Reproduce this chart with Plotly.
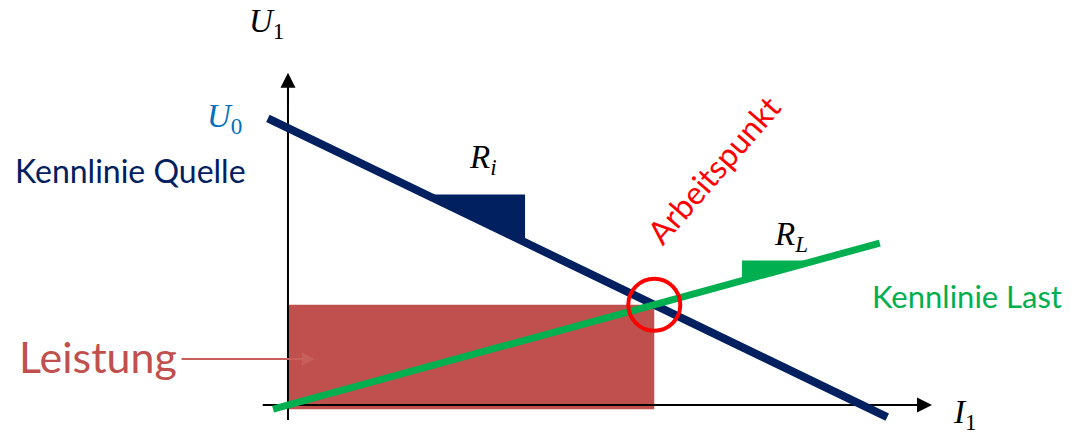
import plotly.graph_objects as go

# ---- data (conceptual units) ----
U0 = 10.0            # open-circuit voltage
Ri = 1.0             # internal resistance (slope of source characteristic)
RL = 0.567           # load resistance (slope of load characteristic)
source_I = [-0.35, 10.44]          # drawn extent of source line
load_I = [-0.26, 10.31]            # drawn extent of load line
ri_tri_I = [2.4, 4.13]             # slope triangle on source line
rl_tri_I = [7.91, 9.2]             # slope triangle on load line
x_axis_I = [-0.44, 11.22]
y_axis_U = [-0.54, 11.99]
leistung_arrow_I = [-1.88, 0.47]
leistung_arrow_U = 1.66

# derived values
I_op = U0 / (Ri + RL)
U_op = U0 - Ri * I_op
src = lambda i: U0 - Ri * i
ld = lambda i: RL * i

NAVY = "#002060"
GREEN = "#00B050"
BRICK = "#C0504D"
RED = "#FF0000"
BLUE = "#0070C0"

fig = go.Figure()

# power rectangle
fig.add_trace(go.Scatter(x=[0, I_op, I_op, 0, 0], y=[-0.15, -0.15, U_op, U_op, -0.15],
                         fill="toself", fillcolor=BRICK, mode="lines",
                         line=dict(width=0, color=BRICK), hoverinfo="skip"))
# axes (lines stop just before the arrow tips)
fig.add_trace(go.Scatter(x=[x_axis_I[0], x_axis_I[1] - 0.2], y=[0, 0], mode="lines",
                         line=dict(color="black", width=2), hoverinfo="skip"))
fig.add_trace(go.Scatter(x=[0, 0], y=[y_axis_U[0], y_axis_U[1] - 0.4], mode="lines",
                         line=dict(color="black", width=2), hoverinfo="skip"))
# source characteristic
fig.add_trace(go.Scatter(x=source_I, y=[src(i) for i in source_I], mode="lines",
                         line=dict(color=NAVY, width=8), hoverinfo="skip"))
# load characteristic
fig.add_trace(go.Scatter(x=load_I, y=[ld(i) for i in load_I], mode="lines",
                         line=dict(color=GREEN, width=7), hoverinfo="skip"))
# Ri triangle
a, b = ri_tri_I
fig.add_trace(go.Scatter(x=[a, b, b, a], y=[src(a), src(a), src(b), src(a)],
                         fill="toself", fillcolor=NAVY, mode="lines",
                         line=dict(width=0, color=NAVY), hoverinfo="skip"))
# RL triangle
a, b = rl_tri_I
fig.add_trace(go.Scatter(x=[a, a, b, a], y=[ld(a), ld(b), ld(b), ld(a)],
                         fill="toself", fillcolor=GREEN, mode="lines",
                         line=dict(width=0, color=GREEN), hoverinfo="skip"))
# operating point circle
fig.add_trace(go.Scatter(x=[I_op], y=[U_op], mode="markers",
                         marker=dict(symbol="circle-open", size=52, color=RED, line=dict(width=4, color=RED)),
                         hoverinfo="skip"))

# axis arrowheads
fig.add_annotation(x=x_axis_I[1], y=0, ax=x_axis_I[1] - 0.6, ay=0, xref="x", yref="y", axref="x", ayref="y",
                   text="", showarrow=True, arrowhead=2, arrowsize=1.5, arrowwidth=2, arrowcolor="black")
fig.add_annotation(x=0, y=y_axis_U[1], ax=0, ay=y_axis_U[1] - 1.2, xref="x", yref="y", axref="x", ayref="y",
                   text="", showarrow=True, arrowhead=2, arrowsize=1.5, arrowwidth=2, arrowcolor="black")

SANS = "Lato"
SERIF = "Liberation Serif"
ann = [
    dict(x=-0.38, y=13.76, text="<i>U</i><sub>1</sub>", font=dict(family=SERIF, size=33, color="black")),
    dict(x=-1.1, y=10.35, text="<i>U</i><sub>0</sub>", font=dict(family=SERIF, size=33, color=BLUE)),
    dict(x=-2.74, y=8.45, text="Kennlinie Quelle", font=dict(family=SANS, size=32, color=NAVY)),
    dict(x=3.4, y=8.85, text="<i>R</i><sub><i>i</i></sub>", font=dict(family=SERIF, size=33, color="black")),
    dict(x=7.41, y=8.5, text="Arbeitspunkt", textangle=-49, font=dict(family=SANS, size=32, color=RED)),
    dict(x=8.77, y=6.1, text="<i>R</i><sub><i>L</i></sub>", font=dict(family=SERIF, size=33, color="black")),
    dict(x=11.83, y=3.95, text="Kennlinie Last", font=dict(family=SANS, size=31, color=GREEN)),
    dict(x=-3.31, y=1.75, text="Leistung", font=dict(family=SANS, size=43, color=BRICK)),
    dict(x=11.8, y=-0.33, text="<i>I</i><sub>1</sub>", font=dict(family=SERIF, size=33, color="black")),
]
for a_ in ann:
    fig.add_annotation(showarrow=False, xref="x", yref="y", **a_)

# Leistung arrow
fig.add_annotation(x=leistung_arrow_I[1], y=leistung_arrow_U, ax=leistung_arrow_I[0], ay=leistung_arrow_U,
                   xref="x", yref="y", axref="x", ayref="y", text="", showarrow=True,
                   arrowhead=2, arrowsize=1.3, arrowwidth=2, arrowcolor="#C75F5B")

fig.update_layout(
    width=1084, height=434, margin=dict(l=0, r=0, t=0, b=0),
    paper_bgcolor="white", plot_bgcolor="white", showlegend=False,
    xaxis=dict(range=[-5.017, 13.868], visible=False, fixedrange=True),
    yaxis=dict(range=[-1.047, 14.62], visible=False, fixedrange=True),
)
fig.write_html("out.html", config={"displayModeBar": False},
               post_script="document.body.style.margin='0px';document.body.style.overflow='hidden';")
